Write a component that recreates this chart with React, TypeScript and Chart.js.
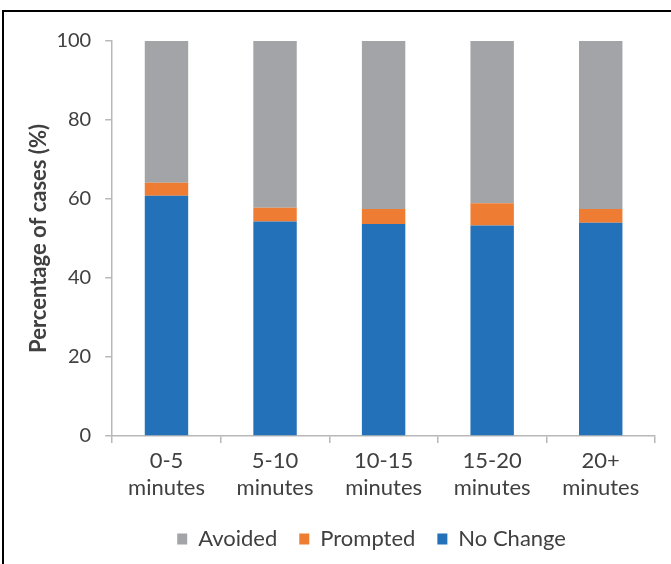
import React, { useEffect, useRef } from "react";
import { Chart, registerables } from "chart.js";

Chart.register(...registerables);

const categories: string[][] = [
  ["0-5", "minutes"],
  ["5-10", "minutes"],
  ["10-15", "minutes"],
  ["15-20", "minutes"],
  ["20+", "minutes"],
];
const noChange = [60.8, 54.3, 53.7, 53.3, 54.0];
const prompted = [3.3, 3.5, 3.8, 5.6, 3.5];
const avoided = [35.9, 42.2, 42.5, 41.1, 42.5];
const yTicks = [0, 20, 40, 60, 80, 100];

const FONT = "Lato, 'Open Sans', sans-serif";
const TEXT = "#404040";
const AXIS = "#b8b8b8";

const legendShift = {
  id: "legendShift",
  afterLayout(chart: any) {
    const l = chart.legend;
    if (l) l.left -= 24;
  },
};

export default function App() {
  const ref = useRef<HTMLCanvasElement | null>(null);

  useEffect(() => {
    if (!ref.current) return;
    const chart = new Chart(ref.current, {
      type: "bar",
      data: {
        labels: categories,
        datasets: [
          { label: "No Change", data: noChange, backgroundColor: "#2372B9" },
          { label: "Prompted", data: prompted, backgroundColor: "#EE7D33" },
          { label: "Avoided", data: avoided, backgroundColor: "#A3A4A7" },
        ],
      },
      plugins: [legendShift],
      options: {
        animation: false,
        responsive: false,
        maintainAspectRatio: false,
        datasets: { bar: { categoryPercentage: 1, barPercentage: 0.4 } },
        layout: { padding: { left: 20, right: 16, top: 41, bottom: 4 } },
        plugins: {
          tooltip: { enabled: false },
          legend: {
            position: "bottom",
            fullSize: false,
            reverse: true,
            labels: {
              boxWidth: 10,
              boxHeight: 11,
              padding: 22,
              color: TEXT,
              font: { family: FONT, size: 22 },
            },
          },
        },
        scales: {
          x: {
            stacked: true,
            offset: true,
            border: { color: AXIS, width: 1.5 },
            grid: {
              offset: true,
              drawOnChartArea: false,
              drawTicks: true,
              tickLength: 7,
              color: AXIS,
              lineWidth: 1.5,
            },
            ticks: {
              color: TEXT,
              font: { family: FONT, size: 22, lineHeight: 1.25 },
              padding: 4,
              maxRotation: 0,
            },
          },
          y: {
            stacked: true,
            min: 0,
            max: 100,
            afterBuildTicks: (axis: any) => {
              axis.ticks = yTicks.map((v) => ({ value: v }));
            },
            border: { color: AXIS, width: 1.5 },
            grid: {
              drawOnChartArea: false,
              drawTicks: true,
              tickLength: 7,
              color: AXIS,
              lineWidth: 1.5,
            },
            ticks: {
              color: TEXT,
              font: { family: FONT, size: 20 },
              padding: 14,
            },
            title: {
              display: true,
              text: "Percentage of cases (%)",
              color: TEXT,
              font: { family: FONT, size: 22, weight: "bold" },
              padding: { top: 6, bottom: -10 },
            },
          },
        },
      },
    });
    return () => chart.destroy();
  }, []);

  return (
    <div
      style={{
        position: "absolute",
        left: 0,
        top: 0,
        width: 671,
        height: 564,
        background: "#fff",
        overflow: "hidden",
      }}
    >
      <div
        style={{
          position: "absolute",
          left: 2,
          top: 10,
          width: 700,
          height: 600,
          borderLeft: "2px solid #000",
          borderTop: "2px solid #000",
        }}
      />
      <canvas
        ref={ref}
        width={671}
        height={564}
        style={{ position: "absolute", left: 0, top: 0, width: 671, height: 564 }}
      />
    </div>
  );
}
